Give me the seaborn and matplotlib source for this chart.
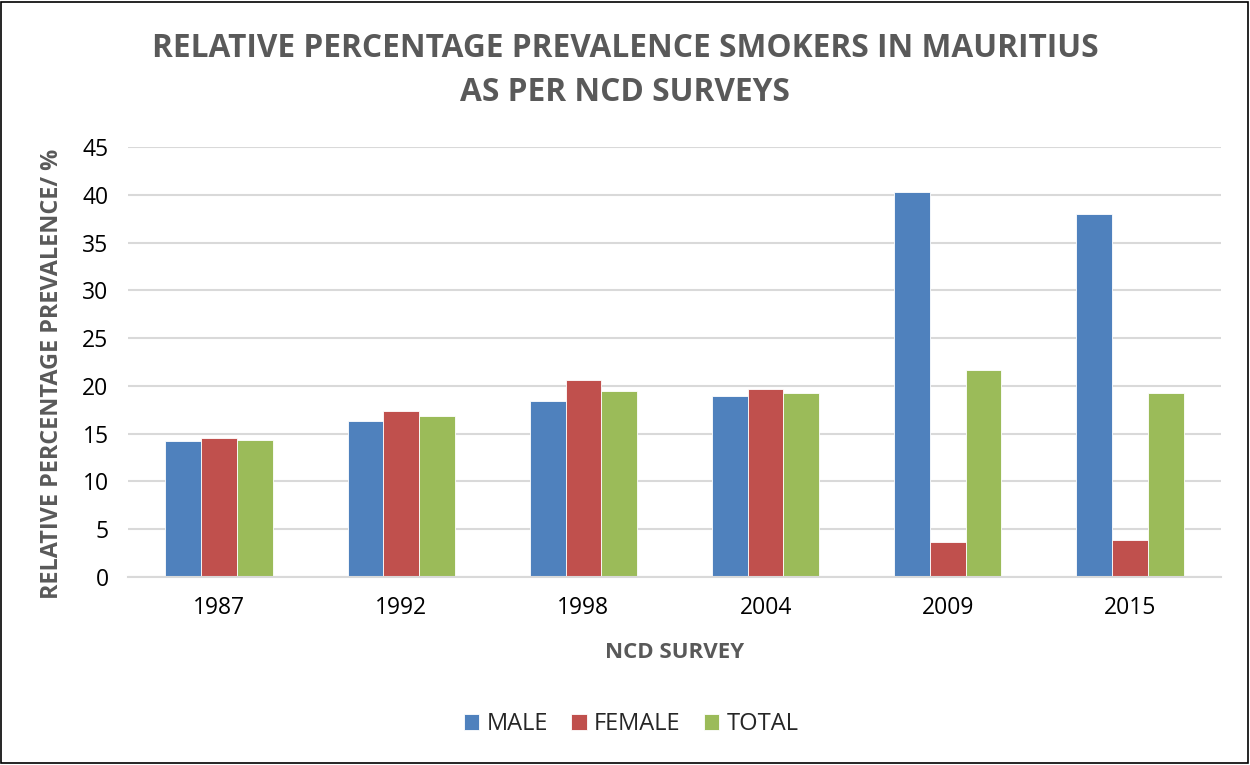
import matplotlib
matplotlib.use("Agg")
import matplotlib.pyplot as plt
import seaborn as sns
import pandas as pd
from matplotlib.patches import Rectangle

# Survey years and prevalence values (%) per group
surveys = ["1987", "1992", "1998", "2004", "2009", "2015"]
male = [14.2, 16.3, 18.4, 18.9, 40.3, 38.0]
female = [14.5, 17.4, 20.6, 19.7, 3.7, 3.9]
total = [14.3, 16.9, 19.5, 19.3, 21.7, 19.3]
series = ["MALE", "FEMALE", "TOTAL"]
colors = ["#4F81BD", "#C0504D", "#9BBB59"]
yticks = [0, 5, 10, 15, 20, 25, 30, 35, 40, 45]

df = pd.DataFrame({
    "survey": surveys * 3,
    "value": male + female + total,
    "group": [s for s in series for _ in surveys],
})

sns.set_theme(style="white")
plt.rcParams["font.family"] = ["Open Sans", "DejaVu Sans"]

fig = plt.figure(figsize=(12.5, 7.65), dpi=100)
ax = fig.add_axes([0.1024, 0.2458, 0.8744, 0.562])

sns.barplot(data=df, x="survey", y="value", hue="group", order=surveys,
            hue_order=series, palette=colors, width=0.59, gap=0,
            edgecolor="white", linewidth=0.6, saturation=1, ax=ax)

ax.set_ylim(0, 45)
ax.set_yticks(yticks)
ax.set_xlim(-0.5, len(surveys) - 0.5)
ax.yaxis.grid(True, color="#D9D9D9", linewidth=1.5)
ax.set_axisbelow(True)
for side in ["left", "right", "top"]:
    ax.spines[side].set_visible(False)
ax.spines["bottom"].set_color("#D9D9D9")
ax.spines["bottom"].set_linewidth(1.5)
ax.tick_params(axis="both", length=0, labelsize=16.5, colors="#000000")
ax.tick_params(axis="y", pad=14)
ax.tick_params(axis="x", pad=14)
ax.set_xlabel("")
ax.set_ylabel("")

gray = "#595959"
fig.text(0.5, 0.937, "RELATIVE PERCENTAGE PREVALENCE SMOKERS IN MAURITIUS",
         ha="center", va="center", fontsize=22.8, fontweight="bold", color=gray)
fig.text(0.5, 0.879, "AS PER NCD SURVEYS",
         ha="center", va="center", fontsize=22.8, fontweight="bold", color=gray)
fig.text(0.5396, 1 - 652 / 765, "NCD SURVEY", ha="center", va="center",
         fontsize=16, fontweight="bold", color=gray)
fig.text(52 / 1250, 1 - 374 / 765, "RELATIVE PERCENTAGE PREVALENCE/ %",
         ha="center", va="center", rotation=90, fontsize=16.8,
         fontweight="bold", color=gray)

handles, labels = ax.get_legend_handles_labels()
ax.legend_.remove()
fig.legend(handles, labels, loc="center", bbox_to_anchor=(0.505, 1 - 724 / 765),
           ncol=3, frameon=False, fontsize=17, handlelength=0.65,
           handleheight=0.65, handletextpad=0.3, columnspacing=1.0)

fig.add_artist(Rectangle((0.001, 0.002), 0.997, 0.996, transform=fig.transFigure,
                         fill=False, edgecolor="black", linewidth=1.2))

fig.savefig("out.png", dpi=100)
